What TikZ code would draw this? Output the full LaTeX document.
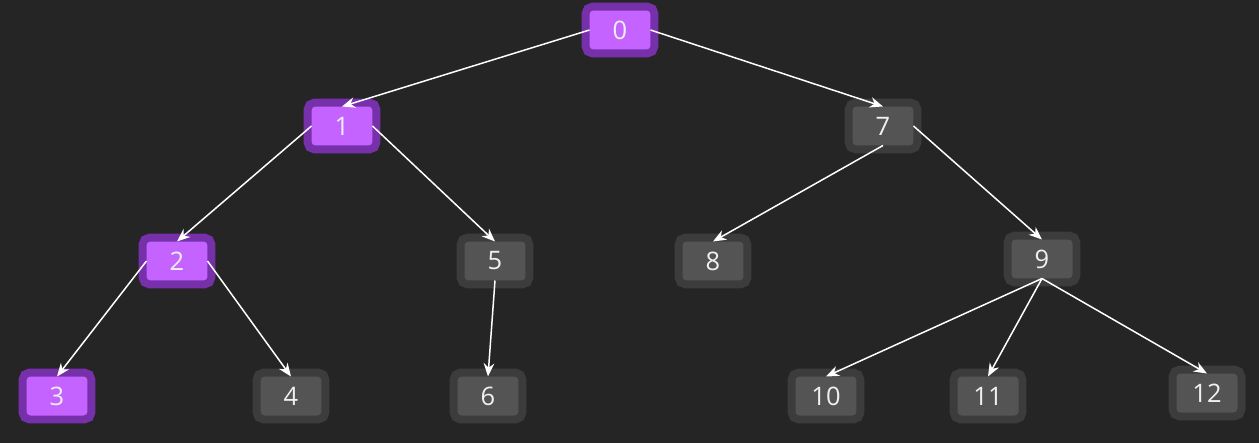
\documentclass[tikz,border=0pt]{standalone}
\usepackage{fontspec}
\setmainfont{Open Sans}
\usepackage{tikz}
\usetikzlibrary{arrows.meta}

\definecolor{bgdark}{HTML}{252525}
\definecolor{visout}{HTML}{7631AA}
\definecolor{visin}{HTML}{C463FF}
\definecolor{idleout}{HTML}{3C3C3C}
\definecolor{idlein}{HTML}{545454}

\begin{document}
\begin{tikzpicture}[x=0.02cm,y=-0.02cm,
box/.style={rounded corners=0.08cm, minimum width=1.22cm, minimum height=0.78cm,
  inner sep=0pt, outer sep=0pt, text=white!94!black,
  font=\fontsize{14.5}{16}\selectfont},
vis/.style={box, fill=visin, preaction={draw=visout, line width=0.32cm}},
idle/.style={box, fill=idlein, preaction={draw=idleout, line width=0.32cm}},
link/.style={draw=white, line width=0.85pt, -{Stealth[length=7.5pt,width=6pt]}}]
\fill[bgdark] (0,0) rectangle (1259,443);
\useasboundingbox (0,0) rectangle (1259,443);

\node[vis] (n0) at (620,30) {0};
\node[vis] (n1) at (342,126) {1};
\node[idle] (n7) at (883,126) {7};
\node[vis] (n2) at (177,261) {2};
\node[idle] (n5) at (495,261) {5};
\node[idle] (n8) at (713,261) {8};
\node[idle] (n9) at (1042,259) {9};
\node[vis] (n3) at (57,396) {3};
\node[idle] (n4) at (291,396) {4};
\node[idle] (n6) at (488,396) {6};
\node[idle] (n10) at (826,396) {10};
\node[idle] (n11) at (988,396) {11};
\node[idle] (n12) at (1207,393) {12};

\path[]
(n0.west) edge[link] (n1.north)
(n0.east) edge[link] (n7.north)
(n1.west) edge[link] (n2.north)
(n1.east) edge[link] (n5.north)
(n7.south) edge[link] (n8.north)
(n7.east) edge[link] (n9.north)
(n2.west) edge[link] (n3.north)
(n2.east) edge[link] (n4.north)
(n5.south) edge[link] (n6.north)
(n9.south) edge[link] (n10.north)
(n9.south) edge[link] (n11.north)
(n9.south) edge[link] (n12.north)
;
\end{tikzpicture}
\end{document}
